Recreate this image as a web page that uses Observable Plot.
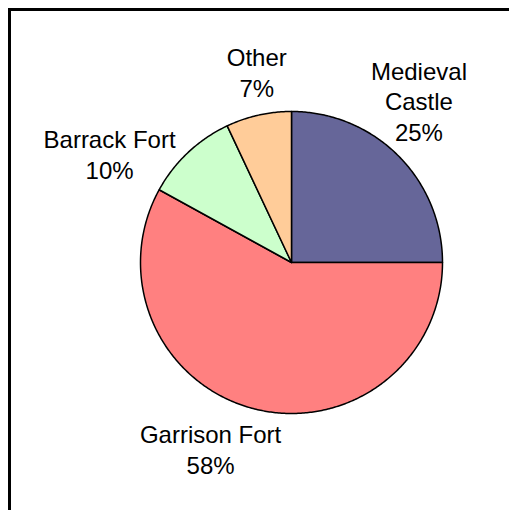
<!DOCTYPE html>
<html>
<head>
<meta charset="utf-8">
<script src="https://cdn.jsdelivr.net/npm/d3@7"></script>
<script src="https://cdn.jsdelivr.net/npm/@observablehq/plot@0.6"></script>
<style>
  html, body { margin: 0; padding: 0; background: #fff; overflow: hidden; }
  svg { display: block; }
</style>
</head>
<body>
<div id="chart"></div>
<script>
// Data
const categories = ["Medieval Castle", "Garrison Fort", "Barrack Fort", "Other"];
const values = [25, 58, 10, 7];
const colors = ["#666699", "#FF8080", "#CCFFCC", "#FFCC99"];
const labelLines = [["Medieval", "Castle", "25%"], ["Garrison Fort", "58%"], ["Barrack Fort", "10%"], ["Other", "7%"]];
// label anchor positions (unit-radius coordinates, centre of text block)
const labelPos = [[0.844, 1.058], [-0.536, -1.247], [-1.205, 0.709], [-0.23, 1.25]];

const total = d3.sum(values);
const pieRows = [];
let start = 0;
values.forEach((v, i) => {
  const a0 = start / total * 2 * Math.PI;
  const a1 = (start + v) / total * 2 * Math.PI;
  start += v;
  const n = Math.max(4, Math.ceil((a1 - a0) / 0.01));
  pieRows.push({cat: categories[i], x: 0, y: 0});
  for (let k = 0; k <= n; k++) {
    const a = a0 + (a1 - a0) * k / n;
    pieRows.push({cat: categories[i], x: Math.sin(a), y: Math.cos(a)});
  }
  pieRows.push({cat: categories[i], x: 0, y: 0});
});

const lineH = 0.204; // line spacing in unit coords (~31px)
const textRows = [];
labelLines.forEach((lines, i) => {
  const [cx, cy] = labelPos[i];
  const m = lines.length;
  lines.forEach((t, j) => {
    textRows.push({text: t, x: cx, y: cy + ((m - 1) / 2 - j) * lineH});
  });
});

const chart = Plot.plot({
  width: 509,
  height: 510,
  margin: 0,
  x: {domain: [-1, 1], range: [140, 442], axis: null},
  y: {domain: [-1, 1], range: [413, 111], axis: null},
  color: {domain: categories, range: colors},
  style: {background: "#fff", fontFamily: "Liberation Sans, Arial, sans-serif"},
  marks: [
    Plot.line(pieRows, {x: "x", y: "y", z: "cat", fill: d => d.cat, stroke: "#000", strokeWidth: 1.5, strokeLinejoin: "round"}),
    Plot.text(textRows, {x: "x", y: "y", text: "text", fontSize: 24, fill: "#000", textAnchor: "middle"}),
    Plot.frame({stroke: "#000", strokeWidth: 3, insetLeft: 9, insetTop: 9, insetRight: -20, insetBottom: -20})
  ]
});
document.getElementById("chart").appendChild(chart);
</script>
</body>
</html>
